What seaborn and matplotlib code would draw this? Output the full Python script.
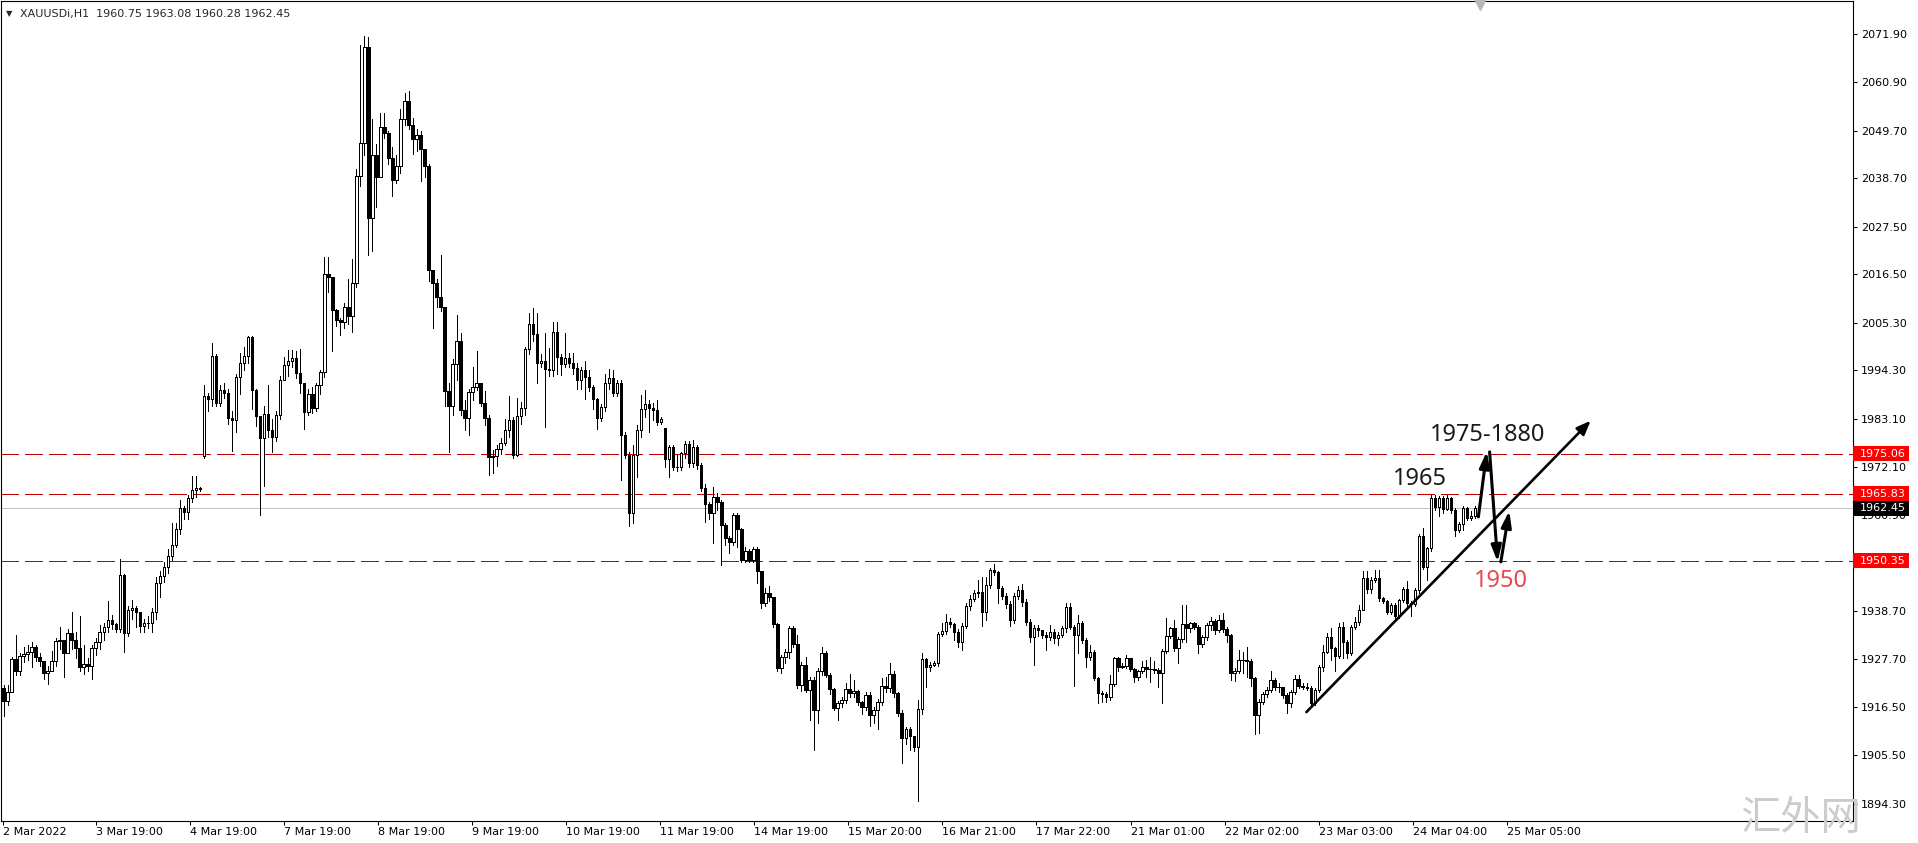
import matplotlib
matplotlib.use("Agg")
import numpy as np
import pandas as pd
import matplotlib.pyplot as plt
import matplotlib.transforms as mtransforms
from matplotlib.patches import Rectangle
import seaborn as sns

# XAUUSDi H1 candles (open = previous close unless listed)
first_open = 1921.0
gap_opens = {50: 1974.5, 165: 1981.0}

closes = [
    1918.0, 1920.1, 1927.6, 1924.8, 1928.4, 1928.8, 1929.2, 1930.4, 1928.2, 1927.1,
    1924.4, 1925.0, 1927.3, 1931.8, 1932.0, 1929.0, 1933.6, 1932.1, 1930.3, 1925.9,
    1926.5, 1926.1, 1930.3, 1931.5, 1933.8, 1935.1, 1936.7, 1935.8, 1934.5, 1947.0,
    1933.6, 1939.0, 1939.4, 1938.6, 1935.3, 1935.9, 1936.1, 1938.5, 1945.3, 1946.8,
    1949.0, 1951.5, 1954.0, 1957.7, 1962.5, 1961.7, 1964.8, 1966.6, 1967.1, 1967.0,
    1988.3, 1987.8, 1997.6, 1986.7, 1989.8, 1989.2, 1983.4, 1982.9, 1992.7, 1996.1,
    1997.6, 2002.1, 1989.8, 1983.7, 1978.6, 1984.3, 1980.6, 1979.0, 1984.0, 1992.1,
    1995.6, 1996.6, 1997.3, 1993.7, 1991.3, 1984.8, 1988.9, 1985.6, 1991.0, 1993.9,
    2016.6, 2015.8, 2008.3, 2005.9, 2005.4, 2008.9, 2006.9, 2014.6, 2039.2, 2046.8,
    2069.0, 2029.5, 2044.1, 2038.9, 2050.6, 2049.1, 2043.3, 2038.2, 2041.5, 2052.3,
    2056.6, 2051.0, 2047.7, 2048.7, 2045.4, 2041.6, 2017.5, 2014.4, 2011.2, 2008.9,
    1989.5, 1986.2, 1995.8, 2001.0, 1985.2, 1983.3, 1989.4, 1990.6, 1991.4, 1986.9,
    1983.3, 1974.4, 1974.6, 1976.1, 1977.5, 1980.6, 1982.9, 1974.8, 1983.7, 1985.6,
    1999.2, 2005.0, 2002.7, 1996.0, 1996.6, 1994.7, 1994.5, 2003.3, 1997.5, 1995.8,
    1997.1, 1996.1, 1994.8, 1992.1, 1994.3, 1992.7, 1990.4, 1987.7, 1983.3, 1985.8,
    1991.5, 1992.5, 1989.2, 1991.3, 1979.4, 1974.8, 1961.5, 1974.8, 1980.6, 1985.3,
    1986.6, 1985.6, 1985.2, 1982.3, 1983.0, 1973.8, 1976.6, 1972.1, 1972.0, 1975.2,
    1977.3, 1973.0, 1976.6, 1972.5, 1967.1, 1963.5, 1961.3, 1965.0, 1964.0, 1958.6,
    1955.6, 1954.6, 1961.0, 1957.7, 1950.6, 1952.5, 1950.6, 1953.0, 1947.9, 1940.7,
    1943.0, 1941.9, 1935.8, 1925.5, 1928.2, 1929.2, 1934.8, 1931.2, 1921.7, 1926.3,
    1920.5, 1922.8, 1915.9, 1924.8, 1929.0, 1924.0, 1920.7, 1916.3, 1917.6, 1918.2,
    1920.7, 1919.9, 1920.2, 1917.8, 1916.7, 1919.4, 1914.8, 1915.9, 1917.8, 1921.5,
    1920.9, 1924.2, 1919.8, 1915.3, 1909.4, 1911.5, 1909.8, 1907.3, 1916.1, 1927.6,
    1925.9, 1926.3, 1926.7, 1933.4, 1934.2, 1936.3, 1935.8, 1934.0, 1931.7, 1935.3,
    1939.9, 1941.5, 1943.0, 1943.1, 1938.6, 1944.8, 1948.2, 1947.8, 1944.0, 1942.2,
    1940.4, 1936.7, 1942.2, 1943.6, 1940.9, 1936.3, 1932.8, 1934.8, 1934.4, 1933.2,
    1932.8, 1934.0, 1932.5, 1933.2, 1934.8, 1939.6, 1935.1, 1933.2, 1936.1, 1932.1,
    1928.1, 1929.4, 1923.2, 1919.8, 1919.7, 1918.8, 1921.9, 1927.8, 1925.9, 1926.1,
    1927.8, 1925.3, 1923.6, 1924.8, 1925.8, 1925.3, 1925.4, 1925.1, 1924.4, 1929.6,
    1933.0, 1934.8, 1930.1, 1932.2, 1935.8, 1934.8, 1935.9, 1935.1, 1931.2, 1932.8,
    1935.5, 1936.5, 1934.4, 1936.7, 1934.5, 1933.2, 1924.4, 1925.0, 1927.4, 1927.4,
    1927.3, 1923.2, 1914.8, 1917.8, 1919.7, 1920.4, 1922.8, 1921.3, 1921.1, 1919.4,
    1917.6, 1920.1, 1923.0, 1921.4, 1921.3, 1920.9, 1917.6, 1920.5, 1925.8, 1929.4,
    1932.8, 1930.1, 1928.4, 1935.1, 1931.5, 1929.1, 1935.0, 1936.3, 1939.0, 1946.3,
    1943.8, 1946.0, 1946.3, 1941.7, 1941.0, 1938.6, 1940.2, 1937.6, 1941.3, 1943.8,
    1940.6, 1940.4, 1943.5, 1956.1, 1949.0, 1953.2, 1964.8, 1962.7, 1964.8, 1962.3,
    1964.8, 1962.1, 1957.5, 1958.9, 1962.5, 1960.2, 1960.75, 1962.45,
]
highs = [
    1921.7, 1921.7, 1928.2, 1933.1, 1929.0, 1930.5, 1931.0, 1931.5, 1931.0, 1929.0,
    1927.0, 1926.0, 1929.5, 1932.5, 1935.0, 1932.0, 1934.5, 1938.5, 1934.0, 1937.5,
    1931.0, 1928.0, 1931.0, 1932.5, 1935.5, 1936.0, 1941.0, 1937.8, 1936.0, 1950.7,
    1947.3, 1940.0, 1941.3, 1940.0, 1938.5, 1937.0, 1937.5, 1939.5, 1946.5, 1948.0,
    1950.0, 1953.0, 1959.0, 1959.0, 1964.5, 1963.0, 1965.5, 1970.0, 1970.0, 1967.5,
    1991.0, 1989.0, 2000.6, 1998.0, 1991.0, 1991.5, 1990.0, 1985.0, 1993.5, 1998.3,
    1999.8, 2002.3, 2002.3, 1990.0, 1983.0, 1986.0, 1991.0, 1983.0, 1985.0, 1993.0,
    1997.5, 1999.0, 1999.0, 1998.8, 1999.3, 1991.5, 1990.0, 1990.5, 1991.5, 1994.5,
    2020.4, 2020.4, 2016.0, 2008.5, 2006.5, 2010.0, 2015.5, 2020.0, 2040.8, 2069.5,
    2071.5, 2071.3, 2052.4, 2046.6, 2053.7, 2053.7, 2049.5, 2046.0, 2044.0, 2054.8,
    2058.3, 2058.8, 2052.5, 2050.0, 2049.5, 2044.0, 2042.0, 2017.0, 2015.5, 2021.0,
    2009.0, 1991.5, 1997.0, 2007.0, 2002.9, 1987.5, 1990.0, 1995.2, 1998.7, 1991.5,
    1989.5, 1984.0, 1976.0, 1977.0, 1978.8, 1983.0, 1988.4, 1983.5, 1988.0, 1987.0,
    1999.8, 2007.5, 2008.7, 2007.5, 1998.0, 2003.0, 1999.5, 2005.4, 2005.6, 1998.0,
    2002.9, 1998.3, 1998.3, 1996.0, 1995.0, 1996.5, 1994.5, 1991.0, 1988.0, 1986.5,
    1993.5, 1994.6, 1994.4, 1992.0, 1992.0, 1980.0, 1975.5, 1977.1, 1981.7, 1988.6,
    1989.8, 1987.5, 1986.7, 1987.5, 1983.5, 1981.0, 1977.0, 1977.1, 1975.0, 1975.5,
    1978.0, 1978.0, 1978.2, 1977.0, 1973.0, 1968.0, 1964.0, 1967.5, 1966.0, 1964.5,
    1959.0, 1956.0, 1961.5, 1961.5, 1958.0, 1953.5, 1953.0, 1953.5, 1953.5, 1948.0,
    1944.0, 1944.5, 1942.0, 1936.0, 1928.5, 1930.0, 1935.2, 1935.2, 1933.2, 1927.0,
    1928.2, 1923.5, 1923.5, 1925.5, 1930.5, 1929.5, 1924.5, 1921.0, 1918.0, 1919.0,
    1922.1, 1924.2, 1922.8, 1920.5, 1918.0, 1920.0, 1920.0, 1916.5, 1918.5, 1923.2,
    1923.6, 1926.8, 1925.0, 1920.0, 1916.0, 1912.0, 1912.0, 1910.0, 1918.2, 1929.0,
    1928.0, 1927.0, 1927.2, 1934.0, 1935.9, 1938.0, 1937.1, 1936.0, 1934.5, 1936.0,
    1940.5, 1942.5, 1943.5, 1946.0, 1946.7, 1946.7, 1948.6, 1949.6, 1948.0, 1944.5,
    1943.0, 1941.0, 1943.0, 1944.5, 1945.0, 1941.5, 1937.0, 1935.5, 1935.5, 1934.4,
    1934.0, 1935.5, 1934.5, 1934.0, 1935.2, 1940.5, 1940.5, 1935.5, 1937.8, 1936.5,
    1932.5, 1930.9, 1929.8, 1923.6, 1920.3, 1920.0, 1924.0, 1928.2, 1928.2, 1926.8,
    1928.6, 1928.0, 1925.5, 1925.2, 1927.1, 1927.5, 1928.2, 1927.1, 1925.5, 1930.0,
    1937.1, 1935.1, 1936.7, 1932.8, 1940.1, 1940.1, 1936.3, 1936.3, 1935.5, 1933.2,
    1936.0, 1937.3, 1937.0, 1937.8, 1938.2, 1935.0, 1933.5, 1925.5, 1929.8, 1929.4,
    1930.5, 1927.6, 1923.5, 1918.5, 1920.1, 1921.3, 1924.8, 1923.2, 1922.1, 1921.3,
    1919.8, 1920.5, 1924.0, 1924.0, 1922.1, 1922.1, 1921.4, 1921.0, 1926.2, 1930.9,
    1933.6, 1934.8, 1930.5, 1935.9, 1936.3, 1932.0, 1935.5, 1937.4, 1940.1, 1947.9,
    1947.9, 1946.5, 1948.3, 1948.3, 1942.0, 1941.3, 1940.5, 1940.5, 1941.5, 1944.2,
    1945.6, 1941.0, 1944.0, 1956.5, 1957.9, 1953.5, 1965.6, 1965.6, 1965.2, 1965.3,
    1965.6, 1965.0, 1962.5, 1959.3, 1963.1, 1962.8, 1961.8, 1963.08,
]
lows = [
    1914.4, 1917.0, 1920.1, 1924.0, 1924.0, 1927.0, 1927.5, 1925.9, 1927.3, 1926.0,
    1923.0, 1921.8, 1925.0, 1926.0, 1930.0, 1923.4, 1929.0, 1930.0, 1928.0, 1925.0,
    1924.3, 1925.0, 1923.0, 1928.5, 1930.0, 1932.0, 1934.0, 1934.5, 1934.0, 1934.0,
    1929.4, 1933.0, 1937.0, 1935.0, 1934.0, 1934.0, 1934.8, 1934.0, 1937.0, 1942.0,
    1945.5, 1947.5, 1950.5, 1953.5, 1956.5, 1960.0, 1960.0, 1964.0, 1965.0, 1966.5,
    1974.0, 1985.0, 1986.0, 1986.0, 1986.0, 1988.0, 1982.0, 1975.6, 1980.0, 1988.8,
    1994.3, 1996.0, 1985.5, 1981.5, 1961.0, 1967.6, 1979.0, 1975.5, 1978.0, 1983.0,
    1992.0, 1993.0, 1995.0, 1992.5, 1989.0, 1980.8, 1984.0, 1984.5, 1985.0, 1988.8,
    1992.8, 2012.5, 1998.9, 2004.6, 2002.6, 2004.0, 2005.0, 2003.3, 2013.5, 2037.0,
    2044.0, 2020.9, 2021.8, 2032.0, 2044.0, 2048.0, 2042.0, 2034.5, 2037.5, 2040.0,
    2051.0, 2050.0, 2044.4, 2045.0, 2038.0, 2039.0, 2015.0, 2004.0, 2009.0, 2008.0,
    1986.0, 1975.5, 1984.0, 1992.0, 1984.0, 1980.6, 1979.4, 1987.5, 1989.8, 1986.0,
    1981.7, 1970.2, 1970.6, 1972.3, 1975.0, 1977.0, 1979.0, 1974.0, 1974.5, 1982.0,
    1984.0, 1998.0, 2001.0, 1991.3, 1995.0, 1981.3, 1993.0, 1993.0, 1993.5, 1993.3,
    1995.0, 1995.0, 1993.5, 1990.0, 1990.0, 1987.8, 1989.5, 1985.4, 1980.7, 1982.7,
    1985.0, 1990.0, 1988.5, 1988.5, 1969.0, 1974.0, 1958.3, 1959.0, 1969.8, 1979.0,
    1983.6, 1980.0, 1982.9, 1981.7, 1982.0, 1972.0, 1969.8, 1971.3, 1971.0, 1971.3,
    1974.0, 1972.0, 1972.0, 1971.5, 1966.5, 1959.2, 1960.0, 1954.4, 1962.0, 1949.4,
    1954.0, 1952.1, 1954.0, 1953.6, 1950.0, 1950.0, 1950.0, 1950.0, 1945.2, 1939.4,
    1940.0, 1941.0, 1935.0, 1925.0, 1924.5, 1926.7, 1928.0, 1930.5, 1921.0, 1920.2,
    1920.0, 1913.6, 1906.7, 1912.8, 1924.0, 1923.5, 1919.5, 1915.8, 1913.6, 1916.5,
    1917.5, 1919.0, 1919.0, 1917.0, 1915.0, 1916.0, 1912.2, 1913.0, 1911.5, 1917.0,
    1920.0, 1920.0, 1919.0, 1914.5, 1903.6, 1908.0, 1906.7, 1906.5, 1894.8, 1915.0,
    1921.3, 1925.0, 1926.0, 1926.0, 1933.0, 1933.5, 1935.0, 1932.1, 1930.4, 1929.8,
    1934.8, 1939.0, 1941.0, 1942.0, 1935.2, 1936.7, 1944.0, 1947.0, 1940.5, 1941.5,
    1939.5, 1935.2, 1936.0, 1941.5, 1940.0, 1935.5, 1931.7, 1926.3, 1933.0, 1932.5,
    1929.8, 1932.0, 1931.3, 1931.0, 1932.8, 1934.0, 1934.5, 1921.4, 1929.0, 1931.3,
    1925.9, 1927.5, 1922.8, 1917.6, 1917.8, 1917.8, 1918.3, 1921.5, 1925.0, 1925.5,
    1925.5, 1924.8, 1922.4, 1922.8, 1924.5, 1923.4, 1922.4, 1924.5, 1921.3, 1917.6,
    1929.0, 1932.5, 1929.5, 1926.7, 1931.5, 1931.7, 1934.0, 1934.5, 1929.0, 1930.5,
    1932.0, 1934.4, 1933.4, 1934.0, 1934.0, 1931.7, 1922.8, 1922.5, 1924.5, 1924.4,
    1923.6, 1921.4, 1910.4, 1910.5, 1917.3, 1919.0, 1920.0, 1920.5, 1920.1, 1918.6,
    1915.1, 1916.7, 1919.5, 1921.0, 1920.8, 1920.5, 1916.7, 1917.0, 1920.0, 1925.0,
    1929.0, 1927.4, 1924.8, 1928.0, 1927.8, 1927.8, 1928.5, 1934.5, 1935.5, 1939.0,
    1943.0, 1943.0, 1945.5, 1941.0, 1940.5, 1938.0, 1938.0, 1937.0, 1937.2, 1940.8,
    1940.0, 1937.5, 1940.0, 1943.0, 1948.5, 1945.9, 1952.5, 1962.0, 1960.6, 1961.5,
    1962.0, 1961.5, 1956.0, 1957.0, 1957.5, 1959.8, 1959.8, 1960.28,
]

levels = [1975.06, 1965.83, 1950.35]
last_price = 1962.45
ytick_vals = [2071.90, 2060.90, 2049.70, 2038.70, 2027.50, 2016.50, 2005.30, 1994.30,
              1983.10, 1972.10, 1960.90, 1949.90, 1938.70, 1927.70, 1916.50, 1905.50, 1894.30]
date_labels = ["3 Mar 19:00", "4 Mar 19:00", "7 Mar 19:00", "8 Mar 19:00", "9 Mar 19:00",
               "10 Mar 19:00", "11 Mar 19:00", "14 Mar 19:00", "15 Mar 20:00", "16 Mar 21:00",
               "17 Mar 22:00", "21 Mar 01:00", "22 Mar 02:00", "23 Mar 03:00", "24 Mar 04:00",
               "25 Mar 05:00"]
header = "XAUUSDi,H1  1960.75 1963.08 1960.28 1962.45"

# analysis drawn on top: trend line and expected path
trend_start = (324.9, 1915.4)
trend_end = (395.8, 1982.7)
path_legs = [((367.8, 1960.5), (369.9, 1975.6)),
             ((370.6, 1975.5), (372.6, 1950.1)),
             ((373.4, 1950.1), (375.5, 1961.9))]
notes = [("1975-1880", 370.2, 1979.4, "#1a1a1a"),
         ("1965", 353.1, 1969.2, "#1a1a1a"),
         ("1950", 373.4, 1945.7, "#e8484b")]

# build OHLC table
df = pd.DataFrame({"close": closes, "high": highs, "low": lows})
df["open"] = df["close"].shift(1)
df.loc[0, "open"] = first_open
for k, v in gap_opens.items():
    df.loc[k, "open"] = v
df["high"] = df[["high", "open", "close"]].max(axis=1)
df["low"] = df[["low", "open", "close"]].min(axis=1)
df["idx"] = np.arange(len(df))
df["bull"] = df["close"] >= df["open"]
df["body_lo"] = df[["open", "close"]].min(axis=1)
df["body_hi"] = df[["open", "close"]].max(axis=1)

sns.set_theme(style="white")
plt.rcParams["font.family"] = ["DejaVu Sans"]
plt.rcParams["lines.scale_dashes"] = False

W, H = 1918, 843
fig = plt.figure(figsize=(W / 100, H / 100), dpi=100)
fig.patch.set_facecolor("white")
ax = fig.add_axes([0.5 / W, 22 / H, 1852 / W, 820 / H])
ax.set_facecolor("white")

step = 4.01  # px per bar
ax.set_xlim(-3 / step, (1852 - 3) / step)
ax.set_ylim(1890.26, 2079.63)

# levels and last price line
for lv in levels:
    ax.axhline(lv, color="#c00000", lw=0.75, ls=(0, (12.5, 4.5)),
               antialiased=False, zorder=1)
ax.axhline(last_price, color="#c0c0c0", lw=0.7, antialiased=False, zorder=1)

# candles: wicks above and below the body, then the body
ax.vlines(df["idx"], df["body_hi"], df["high"], color="black", lw=0.7,
          antialiased=False, zorder=2)
ax.vlines(df["idx"], df["low"], df["body_lo"], color="black", lw=0.7,
          antialiased=False, zorder=2)
body_h = (df["body_hi"] - df["body_lo"]).clip(lower=0.12)
ax.bar(df["idx"], body_h, bottom=df["body_lo"], width=0.62,
       color=np.where(df["bull"], "white", "black"), edgecolor="black",
       linewidth=0.7, antialiased=False, zorder=3)

# axis styling
for sp in ax.spines.values():
    sp.set_color("black")
    sp.set_linewidth(0.8)
    sp.set_visible(True)
ax.yaxis.tick_right()
ax.set_yticks(ytick_vals)
ax.set_yticklabels([f"{v:.2f}" for v in ytick_vals])
ax.tick_params(axis="y", direction="out", length=3, width=0.75, pad=3,
               labelsize=8, colors="black", right=True, left=False)

label_start, label_step = 23.0, 23.46
xt = [-0.15] + [label_start + label_step * k for k in range(len(date_labels))]
ax.set_xticks(xt)
ax.set_xticklabels(["2 Mar 2022"] + date_labels)
ax.tick_params(axis="x", direction="out", length=3, width=0.75, pad=1.5,
               labelsize=8, colors="black", bottom=True)
for lbl in ax.get_xticklabels():
    lbl.set_horizontalalignment("left")
ax.grid(False)

# price boxes on the right axis
tr = mtransforms.blended_transform_factory(ax.transAxes, ax.transData)
bh = 15 / 4.33
for lv, fc in [(lv, "#ff0000") for lv in levels] + [(last_price, "black")]:
    ax.add_patch(Rectangle((1.0005, lv - bh / 2), 56 / 1852, bh, transform=tr,
                           facecolor=fc, edgecolor="none", clip_on=False, zorder=6))
    ax.text(1859 / 1852, lv, f"{lv:.2f}", transform=tr, color="white", fontsize=8,
            va="center", ha="left", clip_on=False, zorder=7)

# trend line and path arrows
ax.annotate("", xy=trend_end, xytext=trend_start,
            arrowprops=dict(arrowstyle="-|>,head_length=0.7,head_width=0.28",
                            color="black", lw=1.9, shrinkA=0, shrinkB=0), zorder=8)
for a, b in path_legs:
    ax.annotate("", xy=b, xytext=a,
                arrowprops=dict(arrowstyle="-|>,head_length=0.8,head_width=0.25",
                                color="black", lw=2.2, shrinkA=0, shrinkB=0), zorder=8)
for txt, x, y, c in notes:
    ax.text(x, y, txt, color=c, fontsize=17, ha="center", va="center",
            family=["Noto Sans", "DejaVu Sans"], zorder=9)

# chart shift marker
ax.plot([368.3], [0.995], marker="v", markersize=7, color="#b8b8b8",
        transform=mtransforms.blended_transform_factory(ax.transData, ax.transAxes),
        clip_on=False, zorder=9)

# header
fig.text(6 / W, 1 - 13.5 / H, "▼", fontsize=6, va="center", ha="left")
fig.text(20 / W, 1 - 13.5 / H, header, fontsize=8, va="center", ha="left")

# watermark
fig.text(1740 / W, 1 - 830 / H, "汇外网", fontsize=29, color="#cccccc",
         family=["Noto Sans CJK SC", "DejaVu Sans"], ha="left", va="baseline", zorder=0)

fig.savefig("out.png", dpi=100, facecolor="white")
